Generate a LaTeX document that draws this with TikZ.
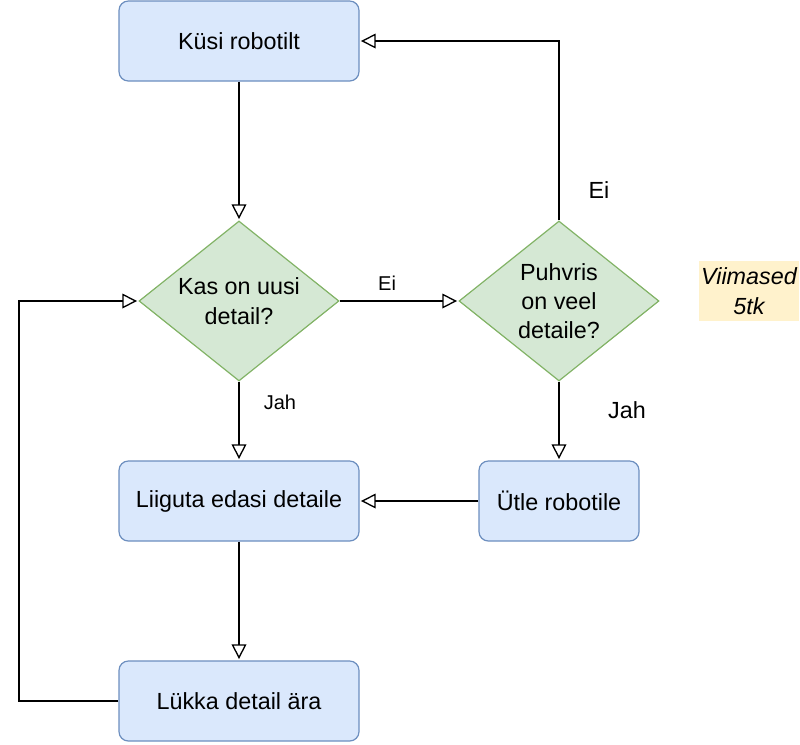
\documentclass[tikz,border=0pt]{standalone}
\usepackage{fontspec}
\setmainfont{Liberation Sans}
\usepackage{tikz}
\usetikzlibrary{shapes.geometric,arrows.meta}
\definecolor{boxfill}{HTML}{DAE8FC}
\definecolor{boxline}{HTML}{6C8EBF}
\definecolor{decfill}{HTML}{D5E8D4}
\definecolor{decline}{HTML}{82B366}
\definecolor{notefill}{HTML}{FFF2CC}

\begin{document}
\begin{tikzpicture}[x=0.75pt,y=-0.75pt,
    font=\fontsize{17.5}{22}\selectfont,
    stepbox/.style={draw=boxline,fill=boxfill,line width=0.9pt,rounded corners=7pt,
                    minimum width=180pt,minimum height=60pt,inner sep=0,align=center},
    decision/.style={diamond,aspect=1.25,draw=decline,fill=decfill,line width=0.9pt,
                     minimum width=150pt,minimum height=120pt,inner sep=0,align=center},
    flow/.style={line width=1pt,-{Triangle[open,length=11pt,width=11pt]},shorten >=1pt},
    small/.style={font=\fontsize{15}{18}\selectfont}]
      \useasboundingbox (0,0) rectangle (800,744);

      \node[stepbox] (kysi) at (239,41) {Küsi robotilt};
      \node[decision] (uusi) at (239,301) {Kas on uusi\\detail?};
      \node[decision] (puhvris) at (559,301) {Puhvris\\on veel\\detaile?};
      \node[fill=notefill,minimum width=75pt,minimum height=45pt,inner sep=0,
            align=center,font=\fontsize{17.5}{22}\selectfont\itshape]
            (viimased) at (749,291) {Viimased\\5tk};
      \node[stepbox] (liiguta) at (239,501) {Liiguta edasi detaile};
      \node[stepbox,minimum width=120pt] (utle) at (559,501) {Ütle robotile};
      \node[stepbox] (lykka) at (239,701) {Lükka detail ära};

      \coordinate (tagasi1) at (19,701);
      \coordinate (tagasi2) at (19,301);

      \draw[flow] (kysi) -- (uusi);
      \draw[flow] (uusi) -- node[small,above=4pt,pos=0.4] (ei1) {Ei} (puhvris);
      \draw[flow] (uusi) -- (liiguta);
      \draw[flow] (puhvris.north) |- (kysi.east);
      \draw[flow] (puhvris) -- (utle);
      \draw[flow] (utle) -- (liiguta);
      \draw[flow] (liiguta) -- (lykka);
      \draw[flow] (lykka.west) -- (tagasi1) -- (tagasi2) -- (uusi.west);

      \node[small] (jah1) at (280,402) {Jah};
      \node (ei2) at (599,190) {Ei};
      \node (jah2) at (627,410) {Jah};
    \end{tikzpicture}
\end{document}
